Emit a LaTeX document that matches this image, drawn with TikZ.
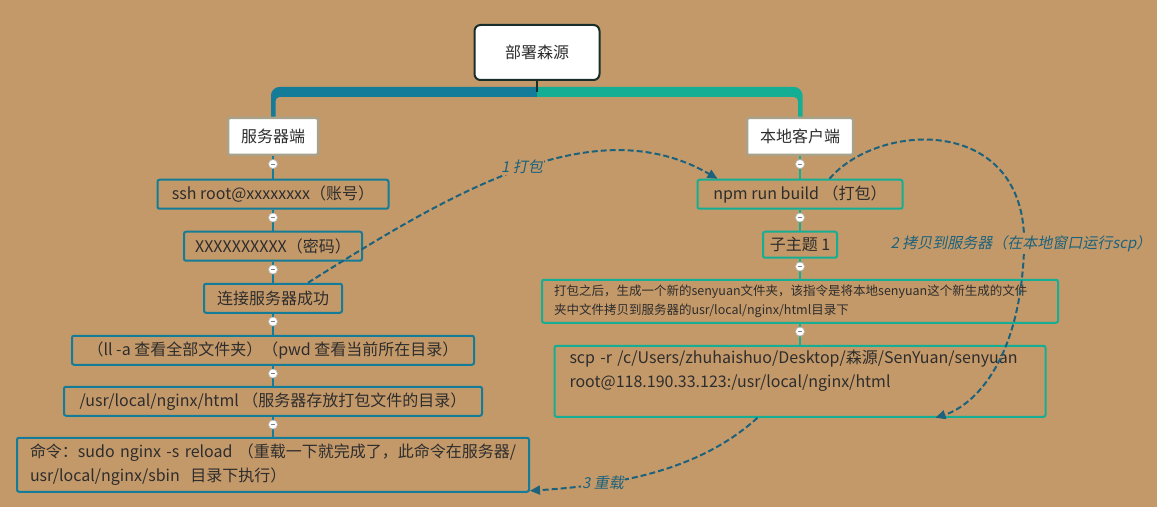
\documentclass[tikz,border=0pt]{standalone}
\usepackage{fontspec}
\setmainfont{Noto Sans CJK SC}
\newfontfamily\slfont[FakeSlant=0.2]{Noto Sans CJK SC}
\usetikzlibrary{positioning,arrows.meta,calc}

\definecolor{kraft}{RGB}{196,153,105}
\definecolor{rootdark}{RGB}{24,46,42}
\definecolor{sidegray}{RGB}{168,162,138}
\definecolor{srvblue}{RGB}{20,124,152}
\definecolor{locgreen}{RGB}{20,174,148}
\definecolor{jumpblue}{RGB}{28,98,124}
\definecolor{txt}{RGB}{45,45,45}

\tikzset{
    fold/.style={circle, draw=gray!55, fill=white, line width=0.6pt,
        inner sep=0pt, minimum size=9pt,
        path picture={\draw[gray, line width=1pt]
            ([xshift=-2.3pt]path picture bounding box.center) --
            ([xshift=2.3pt]path picture bounding box.center);}},
    lbl/.style={font=\slfont\fontsize{15}{18}\selectfont, text=jumpblue,
        fill=kraft, inner sep=1.5pt}
}

\begin{document}
\begin{tikzpicture}[
        x=1pt, y=-1pt,
        font=\fontsize{16}{24}\selectfont, text=txt,
        node distance=21pt,
        rootbox/.style={draw=rootdark, line width=2pt, fill=white,
            rounded corners=6pt, minimum width=125pt, minimum height=55pt},
        sidebox/.style={draw=sidegray, line width=2.5pt, fill=white,
            rounded corners=2pt, inner xsep=13pt, minimum height=37pt},
        srvbox/.style={draw=srvblue, line width=2pt, rounded corners=2pt,
            inner sep=0pt, minimum height=29pt},
        locbox/.style={draw=locgreen, line width=2pt, rounded corners=2pt,
            inner sep=0pt, minimum height=29pt},
        srvln/.style={srvblue, line width=1.6pt},
        locln/.style={locgreen, line width=1.6pt},
        jump/.style={jumpblue, line width=2pt, dash pattern=on 6pt off 3pt,
            -{Triangle[length=10pt, width=9pt]}}
    ]
    \useasboundingbox (0,0) rectangle (1173,513);
    \fill[white] (0,0) rectangle (1173,513);
    \fill[kraft] (0,0) rectangle (1157,507);

    %% ---- root and the bracket ----
    \node[rootbox] (root) at (537,52.5) {部署森源};
    \coordinate (hub) at (537,92);
    \fill[srvblue] (537,87) -- (279,87) .. controls (274.6,87) and (271,91.4) .. (271,95)
        -- (271,118) -- (275.5,118) -- (275.5,101)
        .. controls (275.5,98.8) and (277.3,97) .. (279.5,97) -- (537,97) -- cycle;
    \fill[locgreen] (537,87) -- (794.5,87) .. controls (798.9,87) and (802.5,91.4) .. (802.5,95)
        -- (802.5,118) -- (798,118) -- (798,101)
        .. controls (798,98.8) and (796.2,97) .. (794,97) -- (537,97) -- cycle;
    \draw[rootdark, line width=1.2pt] (root) -- (hub);

    \node[sidebox] (srv) at (273,136.5) {服务器端};
    \node[sidebox] (loc) at (800,136.5) {本地客户端};

    %% ---- left column: server ----
    \node[srvbox, minimum width=231pt, below=22.5pt of srv] (ssh) {ssh root@xxxxxxxx（账号）};
    \node[srvbox, minimum width=178pt, below=of ssh] (pw) {XXXXXXXXXX（密码）};
    \node[srvbox, minimum width=138pt, below=of pw] (link) {连接服务器成功};
    \node[srvbox, minimum width=402pt, below=of link] (ll) {（ll -a 查看全部文件夹）（pwd 查看当前所在目录）};
    \node[srvbox, minimum width=418pt, below=20pt of ll] (usr) {/usr/local/nginx/html （服务器存放打包文件的目录）};
    \node[srvbox, inner xsep=13pt, text width=486pt, minimum height=54pt, align=left,
        below=20pt of usr] (cmd)
        {命令：sudo nginx -s reload （重载一下就完成了，此命令在服务器/\\usr/local/nginx/sbin~~目录下执行）};

    \foreach \a/\b in {srv/ssh, ssh/pw, pw/link, link/ll, ll/usr, usr/cmd}
        \draw[srvln] (\a.south) -- (\b.north);
    \foreach \a in {srv, ssh, pw, link, ll, usr}
        \node[fold, below=3pt of \a] (f\a) {};

    %% ---- right column: local client ----
    \node[locbox, minimum width=205pt, below=22.5pt of loc] (npm) {npm run build （打包）};
    \node[locbox, minimum width=74pt, minimum height=26pt, below=of npm] (sub) {子主题 1};
    \node[locbox, inner xsep=12pt, text width=492pt, minimum height=43pt, align=left,
        font=\fontsize{12.5}{19}\selectfont, below=20pt of sub] (pack)
        {打包之后，生成一个新的senyuan文件夹，该指令是将本地senyuan这个新生成的文件\\夹中文件拷贝到服务器的usr/local/nginx/html目录下};
    \node[locbox, inner xsep=15pt, text width=461pt, minimum height=71pt, align=left,
        below=of pack] (scp)
        {scp -r /c/Users/zhuhaishuo/Desktop/森源/SenYuan/senyuan\\root@118.190.33.123:/usr/local/nginx/html\\\mbox{}};

    \foreach \a/\b in {loc/npm, npm/sub, sub/pack, pack/scp}
        \draw[locln] (\a.south) -- (\b.north);
    \foreach \a in {loc, npm, sub, pack}
        \node[fold, below=3pt of \a] (f\a) {};

    %% ---- dashed steps between the two sides ----
    \draw[jump] ([xshift=-35pt]link.north east) .. controls (455,190) and (595,108) ..
        node[lbl, pos=0.5, yshift=3pt] {1 打包} ([xshift=21pt]npm.north west);
    \draw[jump] ([xshift=-74pt]npm.north east) .. controls (880,120) and (1030,115) ..
        (1024,250) node[lbl, xshift=-3pt, yshift=6pt] {2 拷贝到服务器（在本地窗口运行scp）}
        .. controls (1020,360) and (975,405) .. ([xshift=-111pt]scp.south east);
    \draw[jump] ([xshift=204pt]scp.south west) .. controls (700,470) and (620,485) ..
        node[lbl, pos=0.72] {3 重载} ([yshift=2pt]cmd.south east);
\end{tikzpicture}
\end{document}
